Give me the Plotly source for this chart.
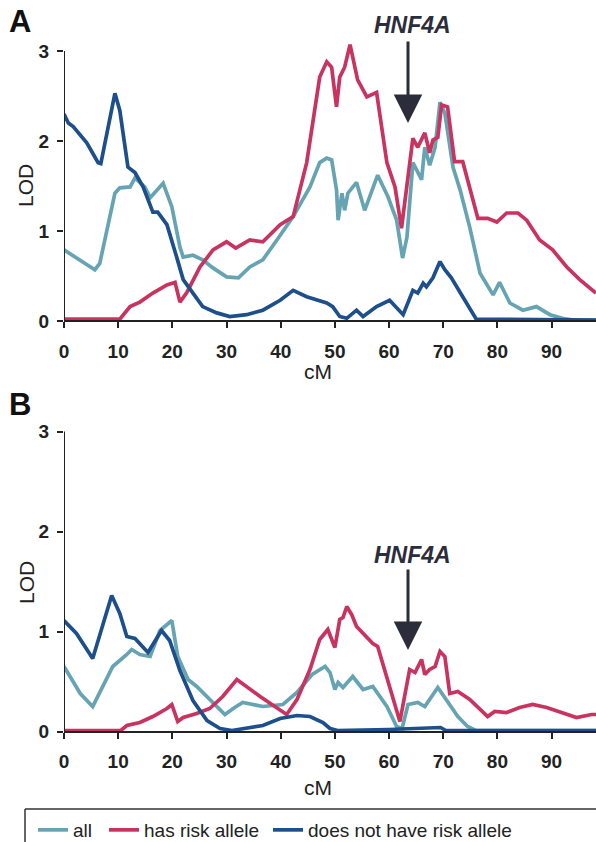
import plotly.graph_objects as go

W, H = 596, 842

# ---------------- data ----------------
A_all_cm = [0, 3, 5.7, 6.6, 9.4, 10.3, 12.2, 13.1, 14.9, 15.9, 17.7, 18.3, 19.9, 21.4, 22, 23.8, 25.6, 27.5, 30, 32.2,
            34.3, 36.7, 39.3, 42.3, 45.4, 47.2, 48.5, 49.4, 50.3, 50.6, 51.3, 51.8, 52.4, 54, 55.5, 57.9, 59.8, 61.4,
            62.5, 63.3, 64.4, 65.3, 66, 66.6, 67.5, 68.5, 69.4, 70.3, 71.8, 73.1, 74.9, 76.8, 79.2, 80.4, 82.3, 84.7,
            87.2, 89.7, 92, 94, 98.2]
A_all_lod = [0.79, 0.68, 0.57, 0.64, 1.42, 1.48, 1.49, 1.59, 1.49, 1.37, 1.49, 1.53, 1.27, 0.82, 0.71, 0.73, 0.68, 0.59,
             0.49, 0.48, 0.6, 0.68, 0.9, 1.16, 1.49, 1.76, 1.81, 1.79, 1.46, 1.12, 1.42, 1.23, 1.42, 1.54, 1.23, 1.62,
             1.38, 1.12, 0.7, 0.93, 1.76, 1.64, 1.57, 1.93, 1.73, 1.93, 2.43, 2.31, 1.71, 1.46, 1.04, 0.53, 0.29, 0.43,
             0.2, 0.12, 0.16, 0.07, 0.03, 0.01, 0.01]

A_has_cm = [0, 10.3, 12.2, 14, 16.4, 19, 20.5, 21.4, 22.7, 25.1, 27.5, 30, 31.7, 34.3, 36.7, 39.9, 42.3, 44.8, 47.2,
            48.5, 49.4, 50.3, 50.9, 51.8, 52.8, 53.7, 54.2, 55.9, 57.7, 59.6, 61.1, 62.3, 64.4, 65.3, 66.6, 67.5, 68.1,
            69, 69.7, 70.8, 72.1, 73.6, 76.4, 78.2, 79.9, 81.7, 83.8, 85.4, 87.8, 90.2, 92.8, 95.2, 98.2]
A_has_lod = [0.02, 0.02, 0.16, 0.21, 0.31, 0.4, 0.43, 0.21, 0.32, 0.6, 0.79, 0.88, 0.81, 0.9, 0.88, 1.07, 1.16, 1.76,
             2.71, 2.88, 2.82, 2.38, 2.71, 2.82, 3.07, 2.82, 2.68, 2.49, 2.54, 1.76, 1.49, 1.03, 2.03, 1.93, 2.09, 1.87,
             2.01, 2.04, 2.4, 2.38, 1.77, 1.77, 1.14, 1.14, 1.1, 1.2, 1.2, 1.12, 0.9, 0.79, 0.6, 0.46, 0.31]

A_not_cm = [0, 0.8, 1.7, 4.2, 6.3, 6.8, 9.4, 10.3, 11.8, 13.1, 14.6, 16.4, 17.3, 19, 20.8, 22, 23.8, 25.6, 28.2, 30.6,
            33.7, 36.7, 39.9, 42.3, 44.8, 48.5, 49.6, 50.9, 52.2, 54, 55.2, 57.7, 60.1, 62.6, 64.4, 65.3, 66.3, 66.9,
            68.1, 69.4, 70.3, 71.5, 73.6, 76.1, 98.2]
A_not_lod = [2.3, 2.2, 2.16, 1.98, 1.76, 1.75, 2.53, 2.34, 1.71, 1.65, 1.49, 1.21, 1.21, 1.07, 0.71, 0.46, 0.31, 0.16,
             0.09, 0.05, 0.07, 0.12, 0.23, 0.34, 0.27, 0.2, 0.16, 0.05, 0.03, 0.12, 0.05, 0.16, 0.23, 0.07, 0.34, 0.31,
             0.42, 0.38, 0.48, 0.66, 0.57, 0.48, 0.27, 0.02, 0.01]

B_all_cm = [0, 3, 5.3, 9, 11.6, 12.5, 14, 15.9, 17.7, 19.9, 21, 22.9, 24.5, 26.9, 29.7, 31.5, 33, 36.7, 40.4, 43, 45.8,
            48.2, 49.1, 50, 50.6, 51.5, 53.3, 55.2, 57, 59.6, 61.4, 62.4, 63.5, 65.3, 66.6, 69, 70.6, 72.7, 74.5, 76,
            98.2]
B_all_lod = [0.65, 0.38, 0.25, 0.65, 0.77, 0.82, 0.77, 0.75, 1.01, 1.11, 0.75, 0.52, 0.45, 0.32, 0.17, 0.24, 0.29, 0.25,
             0.27, 0.39, 0.57, 0.65, 0.59, 0.42, 0.49, 0.44, 0.55, 0.42, 0.45, 0.25, 0.05, 0.03, 0.27, 0.29, 0.25, 0.44,
             0.32, 0.15, 0.05, 0.01, 0.01]

B_has_cm = [0, 10.5, 11.6, 14, 16.4, 19, 19.9, 21, 22, 24.5, 26.9, 29.3, 31.9, 36.2, 41.1, 43, 45.4, 47.2, 48.7, 50,
            50.9, 51.5, 52.2, 53.1, 54, 57, 57.9, 60.1, 62, 63.8, 64.8, 66, 66.6, 67.5, 68.5, 69.4, 70.3, 71.2, 72.7,
            74.9, 78.2, 79.5, 81.7, 84.1, 86.5, 89.1, 92, 94.6, 97.4, 98.2]
B_has_lod = [0.01, 0.01, 0.06, 0.09, 0.15, 0.23, 0.27, 0.1, 0.14, 0.18, 0.23, 0.35, 0.52, 0.35, 0.17, 0.32, 0.62, 0.92,
             1.02, 0.84, 1.12, 1.14, 1.25, 1.17, 1.05, 0.88, 0.85, 0.45, 0.1, 0.62, 0.59, 0.72, 0.57, 0.62, 0.65, 0.8,
             0.75, 0.38, 0.4, 0.32, 0.15, 0.2, 0.19, 0.24, 0.27, 0.24, 0.19, 0.14, 0.17, 0.17]

B_not_cm = [0, 2.3, 5.3, 8.8, 10.3, 11.6, 13.1, 15.5, 18, 19.5, 21.4, 23.8, 26.4, 28.8, 31, 36.7, 39.9, 43, 45.4, 47.8,
            49.1, 50.5, 60, 69.5, 70.5, 98.2]
B_not_lod = [1.11, 0.98, 0.73, 1.36, 1.18, 0.95, 0.93, 0.79, 1.01, 0.91, 0.61, 0.31, 0.11, 0.03, 0.01, 0.06, 0.13, 0.16,
             0.15, 0.09, 0.03, 0.01, 0.02, 0.04, 0.01, 0.01]

series_names = ["all", "has risk allele", "does not have risk allele"]
x_ticks = [0, 10, 20, 30, 40, 50, 60, 70, 80, 90]
y_ticks = [0, 1, 2, 3]
marker_cm = 63.5

# ---------------- styling ----------------
colors = ["#66a3b3", "#c9335f", "#1d4f8c"]
LW = 3.7
FONT = "Liberation Sans, Arial, sans-serif"
XR = [0, 98.2]
YR = [-0.04, 3.1]

def py(px):  # pixel row -> paper fraction
    return 1 - px / H

def pxx(px):
    return px / W

# panels: (pixel of LOD 0, pixels per LOD unit)
panels = [(321.0, 90.0), (731.5, 100.0)]
legend_ids = ["legend", "legend2", "legend3"]
legend_x_px = [33, 104, 268]

fig = go.Figure()
data = [
    [(A_all_cm, A_all_lod), (A_has_cm, A_has_lod), (A_not_cm, A_not_lod)],
    [(B_all_cm, B_all_lod), (B_has_cm, B_has_lod), (B_not_cm, B_not_lod)],
]
for pi, pdata in enumerate(data):
    for si, (xs, ys) in enumerate(pdata):
        fig.add_trace(go.Scatter(
            x=xs, y=ys, mode="lines", name=series_names[si],
            line=dict(color=colors[si], width=LW),
            showlegend=(pi == 0), legendgroup=series_names[si], legend=legend_ids[si],
            xaxis="x" if pi == 0 else "x2", yaxis="y" if pi == 0 else "y2",
        ))

x_left = 64 / W
TICKFONT = dict(family=FONT, size=19, color="#222", weight="bold")
layout_axes = {}
for pi, (y0px, ppu) in enumerate(panels):
    top_px = y0px - YR[1] * ppu
    bot_px = y0px - YR[0] * ppu
    sfx = "" if pi == 0 else "2"
    layout_axes["xaxis" + sfx] = dict(
        domain=[x_left, 1], range=XR, anchor="free", position=py(y0px),
        tickvals=x_ticks, ticks="outside", ticklen=6, tickwidth=2, tickcolor="#222",
        showline=True, linecolor="#222", linewidth=2, showgrid=False, zeroline=False,
        tickfont=TICKFONT, ticklabelstandoff=7, automargin=False,
    )
    layout_axes["yaxis" + sfx] = dict(
        domain=[py(bot_px), py(top_px)], range=YR, anchor="x" + sfx,
        tickvals=y_ticks, ticks="outside", ticklen=6, tickwidth=2, tickcolor="#222",
        showline=False, showgrid=False, zeroline=False,
        tickfont=TICKFONT, ticklabelstandoff=4, automargin=False,
    )

legends = {}
for lid, lx in zip(legend_ids, legend_x_px):
    legends[lid] = dict(orientation="h", x=pxx(lx), y=py(830), xanchor="left", yanchor="middle",
                        font=dict(family=FONT, size=19, color="#222"),
                        bgcolor="rgba(0,0,0,0)", borderwidth=0, itemwidth=30)

fig.update_layout(
    width=W, height=H, margin=dict(l=0, r=0, t=0, b=0, pad=0, autoexpand=False),
    paper_bgcolor="white", plot_bgcolor="white",
    **layout_axes, **legends,
    showlegend=True,
)

shapes = []
# y-axis lines 0..3
for pi in range(2):
    sfx = "" if pi == 0 else "2"
    shapes.append(dict(type="line", xref="x" + sfx, yref="y" + sfx, x0=0, x1=0, y0=0, y1=3,
                       line=dict(color="#222", width=2)))
# legend frame (top and left edges; the rest runs off the page)
shapes.append(dict(type="line", xref="paper", yref="paper", x0=pxx(25), x1=1, y0=py(809), y1=py(809),
                   line=dict(color="#333", width=1.5)))
shapes.append(dict(type="line", xref="paper", yref="paper", x0=pxx(25), x1=pxx(25), y0=0, y1=py(809),
                   line=dict(color="#333", width=1.5)))
fig.update_layout(shapes=shapes)

ann = []
# panel letters
for letter, ypx in [("A", 22), ("B", 405)]:
    ann.append(dict(text="<b>%s</b>" % letter, x=pxx(20), y=py(ypx), xref="paper", yref="paper",
                    xanchor="center", yanchor="middle", showarrow=False,
                    font=dict(family=FONT, size=31, color="#111")))
# axis titles
for pi, (lod_y, cm_y) in enumerate([(186, 372), (583, 787)]):
    ann.append(dict(text="LOD", x=pxx(26), y=py(lod_y), xref="paper", yref="paper", showarrow=False,
                    xanchor="center", yanchor="middle",
                    textangle=-90, font=dict(family=FONT, size=21, color="#222")))
    ann.append(dict(text="cM", x=pxx(318), y=py(cm_y), xref="paper", yref="paper", showarrow=False,
                    xanchor="center", yanchor="middle",
                    font=dict(family=FONT, size=21, color="#222")))
# HNF4A labels and arrows
for pi, (text_px, tail_px, tip_px) in enumerate([(25, 40, 123), (555, 568, 650)]):
    y0px, ppu = panels[pi]
    sfx = "" if pi == 0 else "2"
    ann.append(dict(text="<b><i>HNF4A</i></b>", x=pxx(412), y=py(text_px), xref="paper", yref="paper",
                    xanchor="center", yanchor="middle",
                    showarrow=False, font=dict(family=FONT, size=23, color="#2b2d3a")))
    ann.append(dict(text="", x=marker_cm, y=(y0px - tip_px) / ppu, xref="x" + sfx, yref="y" + sfx,
                    showarrow=True, ax=0, ay=-(tip_px - tail_px), arrowhead=2, arrowsize=1.9, arrowwidth=3,
                    arrowcolor="#2b2d3a"))
fig.update_layout(annotations=ann)

post = (
    "var d=document;"
    "[d.documentElement, d.body].forEach(function(e){e.style.margin='0';e.style.padding='0';"
    "e.style.overflow='hidden';e.style.height='842px';});"
    "d.querySelectorAll('.plotly-graph-div').forEach(function(g){g.style.overflow='hidden';"
    "if(g.parentElement){g.parentElement.style.overflow='hidden';g.parentElement.style.height='842px';}});"
    "d.querySelectorAll('.main-svg').forEach(function(s){s.style.overflow='hidden';});"
)
fig.write_html("out.html", config={"displayModeBar": False}, post_script=post)
